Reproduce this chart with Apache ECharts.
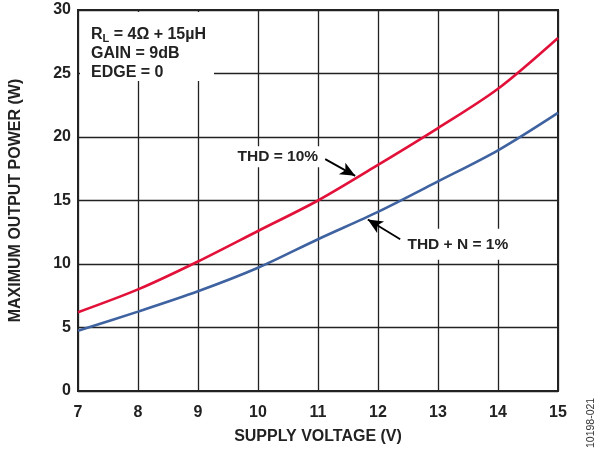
<!DOCTYPE html>
<html><head><meta charset="utf-8">
<script src="https://cdn.jsdelivr.net/npm/echarts@6/dist/echarts.min.js"></script>
<style>html,body{margin:0;padding:0;background:#fff}#c{width:597px;height:450px}</style>
</head><body><div id="c"></div>
<script>
var voltage = [7, 8, 9, 10, 11, 12, 13, 14, 15];
var thd10 = [6.2, 8.0, 10.2, 12.6, 15.0, 17.8, 20.7, 23.8, 27.8];
var thdn1 = [4.75, 6.25, 7.85, 9.7, 11.95, 14.1, 16.5, 18.95, 21.9];
var xTicks = [7, 8, 9, 10, 11, 12, 13, 14, 15];
var yTicks = [0, 5, 10, 15, 20, 25, 30];

function pairs(xs, ys){ return xs.map(function(x,i){ return [x, ys[i]]; }); }
var FONT = '"Liberation Sans", Arial, sans-serif';
var chart = echarts.init(document.getElementById('c'));
chart.setOption({
  animation: false,
  backgroundColor: '#fff',
  grid: { left: 78, top: 10, width: 480, height: 385, show: true, borderColor: '#222', borderWidth: 2, backgroundColor: 'transparent', z: 3 },
  xAxis: {
    type: 'value', min: 7, max: 15, interval: 1,
    name: 'SUPPLY VOLTAGE (V)', nameLocation: 'middle', nameGap: 38,
    nameTextStyle: { fontFamily: FONT, fontWeight: 'bold', fontSize: 16, color: '#222' },
    axisLine: { show: false }, axisTick: { show: false },
    axisLabel: { fontFamily: FONT, fontWeight: 'bold', fontSize: 16, color: '#222', margin: 14,
      formatter: function(v){ return xTicks.indexOf(v) >= 0 ? String(v) : ''; } },
    splitLine: { show: true, lineStyle: { color: '#222', width: 1.3 } }
  },
  yAxis: {
    type: 'value', min: 0, max: 30, interval: 5,
    name: 'MAXIMUM OUTPUT POWER (W)', nameLocation: 'middle', nameGap: 54, nameRotate: 90,
    nameTextStyle: { fontFamily: FONT, fontWeight: 'bold', fontSize: 16, color: '#222' },
    axisLine: { show: false }, axisTick: { show: false },
    axisLabel: { fontFamily: FONT, fontWeight: 'bold', fontSize: 16, color: '#222', margin: 7,
      formatter: function(v){ return yTicks.indexOf(v) >= 0 ? String(v) : ''; } },
    splitLine: { show: true, lineStyle: { color: '#222', width: 1.3 } }
  },
  series: [
    {
      type: 'line', name: 'THD = 10%', data: pairs(voltage, thd10), smooth: 0.3, showSymbol: false,
      lineStyle: { color: '#e2113a', width: 2.6 }, z: 5,
      markLine: {
        silent: true, symbol: ['none', 'arrow'], symbolSize: [10, 15],
        lineStyle: { color: '#000', width: 1.8, type: 'solid' }, label: { show: false },
        data: [[{ coord: [11.12, 18.26] }, { coord: [11.62, 16.94] }]]
      },
      markPoint: {
        silent: true, symbol: 'rect', symbolSize: 1, itemStyle: { color: 'rgba(0,0,0,0)' },
        label: { show: true, formatter: 'THD = 10%', fontFamily: FONT, fontWeight: 'bold', fontSize: 15.5, color: '#222',
          backgroundColor: '#fff', padding: [3, 5, 2, 5] },
        data: [{ coord: [10.33, 18.45] }]
      }
    },
    {
      type: 'line', name: 'THD + N = 1%', data: pairs(voltage, thdn1), smooth: 0.3, showSymbol: false,
      lineStyle: { color: '#3f62a0', width: 2.6 }, z: 5,
      markLine: {
        silent: true, symbol: ['none', 'arrow'], symbolSize: [10, 15],
        lineStyle: { color: '#000', width: 1.8, type: 'solid' }, label: { show: false },
        data: [[{ coord: [12.37, 11.95] }, { coord: [11.83, 13.51] }]]
      },
      markPoint: {
        silent: true, symbol: 'rect', symbolSize: 1, itemStyle: { color: 'rgba(0,0,0,0)' },
        label: { show: true, formatter: 'THD + N = 1%', fontFamily: FONT, fontWeight: 'bold', fontSize: 15.5, color: '#222',
          backgroundColor: '#fff', padding: [8, 5, 7, 5] },
        data: [{ coord: [13.33, 11.55] }]
      }
    }
  ],
  graphic: [
    { type: 'rect', left: 80, top: 12, shape: { width: 134, height: 69 }, style: { fill: '#fff' }, z: 10 },
    { type: 'text', left: 91, top: 26, z: 11,
      style: { rich: {
          b: { fontFamily: FONT, fontWeight: 'bold', fontSize: 16, fill: '#222', lineHeight: 19 },
          s: { fontFamily: FONT, fontWeight: 'bold', fontSize: 11, fill: '#222', verticalAlign: 'bottom', padding: [7, 0, 0, 0], lineHeight: 19 }
        },
        text: '{b|R}{s|L}{b| = 4Ω + 15µH}\n{b|GAIN = 9dB}\n{b|EDGE = 0}' } },
    { type: 'text', x: 586, y: 448, rotation: Math.PI / 2, z: 11,
      style: { text: '10198-021', fontFamily: FONT, fontSize: 10.5, fill: '#333', textVerticalAlign: 'top', textAlign: 'left' } }
  ]
});
</script></body></html>
